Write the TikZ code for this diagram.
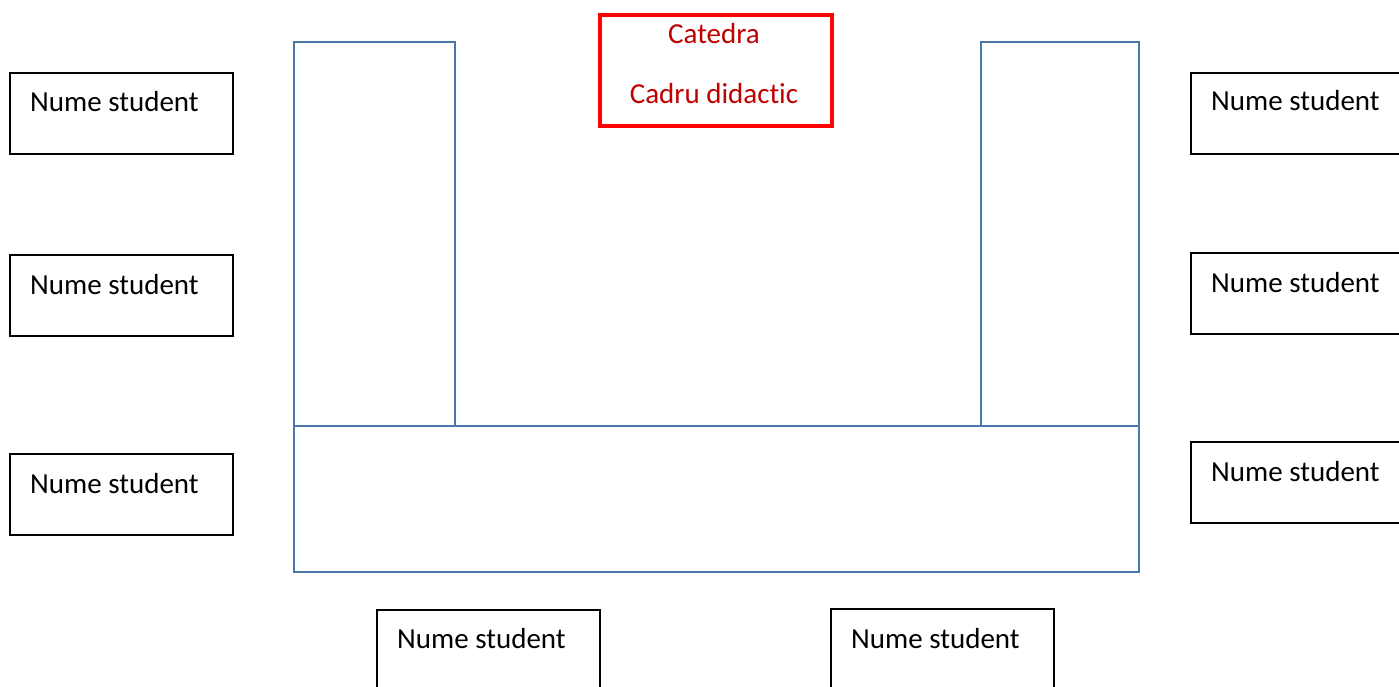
\documentclass[tikz,border=0pt]{standalone}
\usepackage{fontspec}
\setmainfont{Carlito}[Ligatures=NoCommon]
\definecolor{ublue}{HTML}{4A78AA}
\definecolor{dred}{HTML}{C00000}
\begin{document}
\begin{tikzpicture}[x=1pt,y=-1pt,
  stud/.style={draw=black,line width=1.8pt,rectangle,minimum width=223pt,minimum height=81pt,inner sep=0pt,anchor=north west},
  stxt/.style={font=\fontsize{29}{34}\selectfont,anchor=base west,inner sep=0pt},
  desk/.style={draw=ublue,line width=2.9pt},
  cat/.style={draw=red,line width=3.6pt,rectangle,minimum width=232pt,minimum height=111pt,inner sep=0pt,anchor=north west},
  ctxt/.style={font=\fontsize{29}{34}\selectfont,text=dred,anchor=base,inner sep=0pt}]
\useasboundingbox (0,0) rectangle (1399,687);
\clip (0,0) rectangle (1399,687);
% desks
\draw[desk] (294,42) rectangle (455,426);
\draw[desk] (981,42) rectangle (1139,426);
\draw[desk] (294,426) rectangle (1139,572);
% catedra
\node[cat] (cat) at (598,13) {};
\node[ctxt] (cat1) at (714,44) {Catedra};
\node[ctxt] (cat2) at (714,104) {Cadru didactic};
% left students
\node[stud] (l1) at (9,72) {};
\node[stxt] (tl1) at (30,112) {Nume student};
\node[stud] (l2) at (9,254) {};
\node[stxt] (tl2) at (30,294) {Nume student};
\node[stud] (l3) at (9,453) {};
\node[stxt] (tl3) at (30,493) {Nume student};
% right students
\node[stud] (r1) at (1190,72) {};
\node[stxt] (tr1) at (1211,111) {Nume student};
\node[stud] (r2) at (1190,252) {};
\node[stxt] (tr2) at (1211,292) {Nume student};
\node[stud] (r3) at (1190,441) {};
\node[stxt] (tr3) at (1211,481) {Nume student};
% bottom students
\node[stud] (b1) at (376,609) {};
\node[stxt] (tb1) at (397,648) {Nume student};
\node[stud] (b2) at (830,608) {};
\node[stxt] (tb2) at (851,648) {Nume student};
\end{tikzpicture}
\end{document}
